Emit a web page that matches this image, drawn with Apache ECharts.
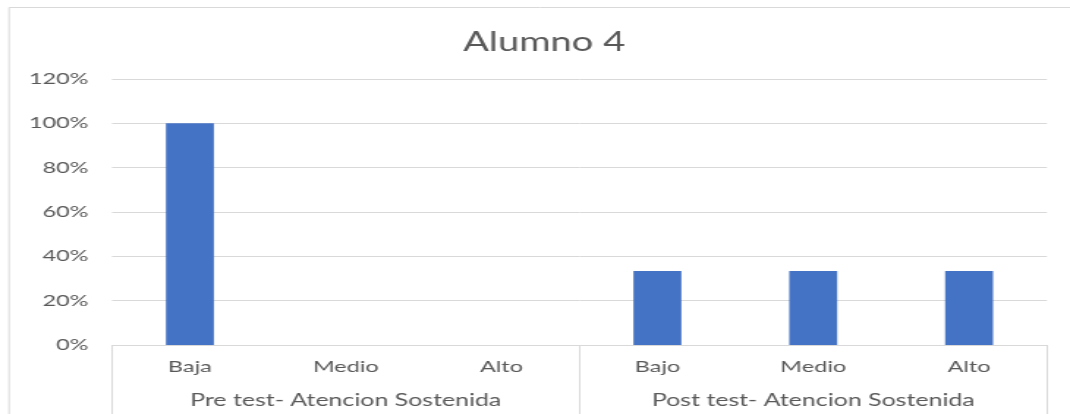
<!DOCTYPE html>
<html>
<head>
<meta charset="utf-8">
<script src="https://cdn.jsdelivr.net/npm/echarts@6/dist/echarts.min.js"></script>
<style>
html,body{margin:0;padding:0;background:#fff;overflow:hidden;}
#c{width:730px;height:414px;transform:scaleX(1.46575);transform-origin:0 0;}
</style>
</head>
<body>
<div id="c"></div>
<script>
const title = "Alumno 4";
const categories = ["Baja", "Medio", "Alto", "Bajo", "Medio", "Alto"];
const groups = ["Pre test- Atencion Sostenida", "Post test- Atencion Sostenida"];
const values = [100, 0, 0, 33.33, 33.33, 33.33];
const yTicks = [0, 20, 40, 60, 80, 100, 120];

const chart = echarts.init(document.getElementById('c'));
const font = 'Lato, "Open Sans", sans-serif';
chart.setOption({
  animation: false,
  textStyle: { fontFamily: font },
  title: {
    text: title, left: 311, top: 25,
    textStyle: { fontFamily: font, fontSize: 26, fontWeight: 'normal', color: '#595959' }
  },
  graphic: [{
    type: 'rect', silent: true,
    shape: { x: 6.2, y: 7.5, width: 900, height: 500 },
    style: { fill: 'none', stroke: '#d9d9d9', lineWidth: 1 }
  }],
  grid: { left: 76.4, right: 15.7, top: 79, bottom: 69 },
  xAxis: [{
    type: 'category', data: categories, position: 'bottom',
    axisLine: { lineStyle: { color: '#d9d9d9' } },
    axisTick: { show: false },
    axisLabel: { color: '#595959', fontSize: 16, margin: 14, fontFamily: font }
  }, {
    type: 'category', data: groups, position: 'bottom',
    axisLine: { show: false },
    axisTick: { show: true, length: 75, lineStyle: { color: '#d9d9d9' } },
    axisLabel: { color: '#595959', fontSize: 17, margin: 47, fontFamily: font }
  }],
  yAxis: {
    type: 'value', min: 0, max: 120, interval: 20,
    axisLine: { show: false }, axisTick: { show: false },
    splitLine: { lineStyle: { color: '#d9d9d9' } },
    axisLabel: { color: '#595959', fontSize: 16, margin: 16, formatter: v => yTicks.includes(v) ? v + '%' : '', fontFamily: font }
  },
  series: [{
    type: 'bar', data: values, barWidth: 32.7, xAxisIndex: 0,
    itemStyle: { color: '#4472C4' }
  }]
});
</script>
</body>
</html>
